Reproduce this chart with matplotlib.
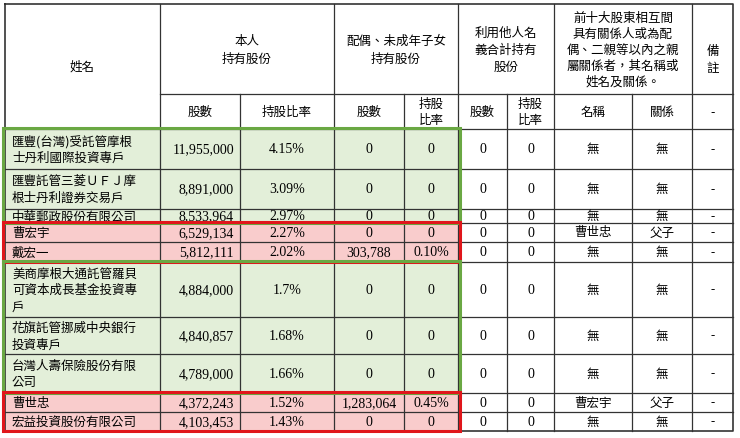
import matplotlib
matplotlib.use("Agg")
import matplotlib.pyplot as plt
from matplotlib.patches import Rectangle

plt.rcParams["font.family"] = ["Noto Sans CJK TC", "DejaVu Sans"]

# ---- 表格資料 ----
names = ["匯豐(台灣)受託管摩根\n士丹利國際投資專戶", "匯豐託管三菱ＵＦＪ摩\n根士丹利證券交易戶", "中華郵政股份有限公司",
         "曹宏宇", "戴宏一", "美商摩根大通託管羅貝\n可資本成長基金投資專\n戶", "花旗託管挪威中央銀行\n投資專戶",
         "台灣人壽保險股份有限\n公司", "曹世忠", "宏益投資股份有限公司"]
own_shares = ["11,955,000", "8,891,000", "8,533,964", "6,529,134", "5,812,111",
              "4,884,000", "4,840,857", "4,789,000", "4,372,243", "4,103,453"]
own_ratio = ["4.15%", "3.09%", "2.97%", "2.27%", "2.02%", "1.7%", "1.68%", "1.66%", "1.52%", "1.43%"]
spouse_shares = ["0", "0", "0", "0", "303,788", "0", "0", "0", "1,283,064", "0"]
spouse_ratio = ["0", "0", "0", "0", "0.10%", "0", "0", "0", "0.45%", "0"]
rel_name = ["無", "無", "無", "曹世忠", "無", "無", "無", "無", "曹宏宇", "無"]
rel_type = ["無", "無", "無", "父子", "無", "無", "無", "無", "父子", "無"]
groups = ["g", "g", "g", "r", "r", "g", "g", "g", "r", "r"]

# 版面（像素）
xs = [5, 160, 240, 334, 404, 458, 507, 554, 632, 692, 733]
row_y = [130, 170, 210, 224, 243, 263, 318, 355, 394, 413, 432]
H_TOP, H_MID = 5, 95

fig = plt.figure(figsize=(7.4, 4.39), dpi=100)
ax = fig.add_axes([0, 0, 1, 1])
ax.set_xlim(0, 740); ax.set_ylim(439, 0); ax.axis("off")

fill = {"g": "#e3efd9", "r": "#f9cccc"}
edge = {"g": "#6aa843", "r": "#e0161b"}
for i, g in enumerate(groups):
    ax.add_patch(Rectangle((xs[0], row_y[i]), xs[5] - xs[0], row_y[i + 1] - row_y[i],
                           facecolor=fill[g], edgecolor="none", zorder=0))

lc = "#333333"
ax.plot([xs[0], xs[-1], xs[-1], xs[0], xs[0]], [H_TOP, H_TOP, row_y[-1], row_y[-1], H_TOP], color=lc, lw=1.2)
for x in xs[1:-1]:
    top = H_MID if x in (240, 404, 507, 632) else H_TOP
    ax.plot([x, x], [top, row_y[-1]], color=lc, lw=0.9)
ax.plot([xs[1], xs[-1]], [H_MID, H_MID], color=lc, lw=0.9)
for y in row_y[:-1]:
    ax.plot([xs[0], xs[-1]], [y, y], color=lc, lw=0.9)

def cx(i):
    return (xs[i] + xs[i + 1]) / 2

fs = 9
nfs = 10
ax.text(cx(0), (H_TOP + row_y[0]) / 2, "姓名", ha="center", va="center", fontsize=fs)
ax.text((xs[1] + xs[3]) / 2, 50, "本人\n持有股份", ha="center", va="center", fontsize=fs, linespacing=1.5)
ax.text((xs[3] + xs[5]) / 2, 50, "配偶、未成年子女\n持有股份", ha="center", va="center", fontsize=fs, linespacing=1.5)
ax.text((xs[5] + xs[7]) / 2, 50, "利用他人名\n義合計持有\n股份", ha="center", va="center", fontsize=fs, linespacing=1.4)
ax.text((xs[7] + xs[9]) / 2, 50, "前十大股東相互間\n具有關係人或為配\n偶、二親等以內之親\n屬關係者，其名稱或\n姓名及關係。",
        ha="center", va="center", fontsize=fs, linespacing=1.3)
ax.text(cx(9), 60, "備\n註", ha="center", va="center", fontsize=fs, linespacing=1.4)
sub = ["股數", "持股比率", "股數", "持股\n比率", "股數", "持股\n比率", "名稱", "關係", "-"]
for j, s in enumerate(sub):
    ax.text(cx(j + 1), (H_MID + row_y[0]) / 2, s, ha="center", va="center", fontsize=fs, linespacing=1.3)

for i in range(len(names)):
    ym = (row_y[i] + row_y[i + 1]) / 2
    ax.text(xs[0] + 7, ym, names[i], ha="left", va="center", fontsize=fs, linespacing=1.35, clip_on=True)
    ax.text(xs[2] - 6, ym, own_shares[i], ha="right", va="center", fontsize=nfs, family="Liberation Serif")
    vals = [own_ratio[i], spouse_shares[i], spouse_ratio[i], "0", "0", rel_name[i], rel_type[i], "-"]
    for j, v in enumerate(vals):
        ax.text(cx(j + 2), ym, v, ha="center", va="center", fontsize=nfs if j < 5 else fs,
                family=["Liberation Serif", "Noto Sans CJK TC"])

# 群組外框
for a, b, g in [(0, 3, "g"), (3, 5, "r"), (5, 8, "g"), (8, 10, "r")]:
    ax.add_patch(Rectangle((3, row_y[a] - 1), xs[5] + 2 - 3, row_y[b] - row_y[a] + 1,
                           facecolor="none", edgecolor=edge[g], lw=2.2, zorder=5))

fig.savefig("out.png", dpi=100, facecolor="white")
